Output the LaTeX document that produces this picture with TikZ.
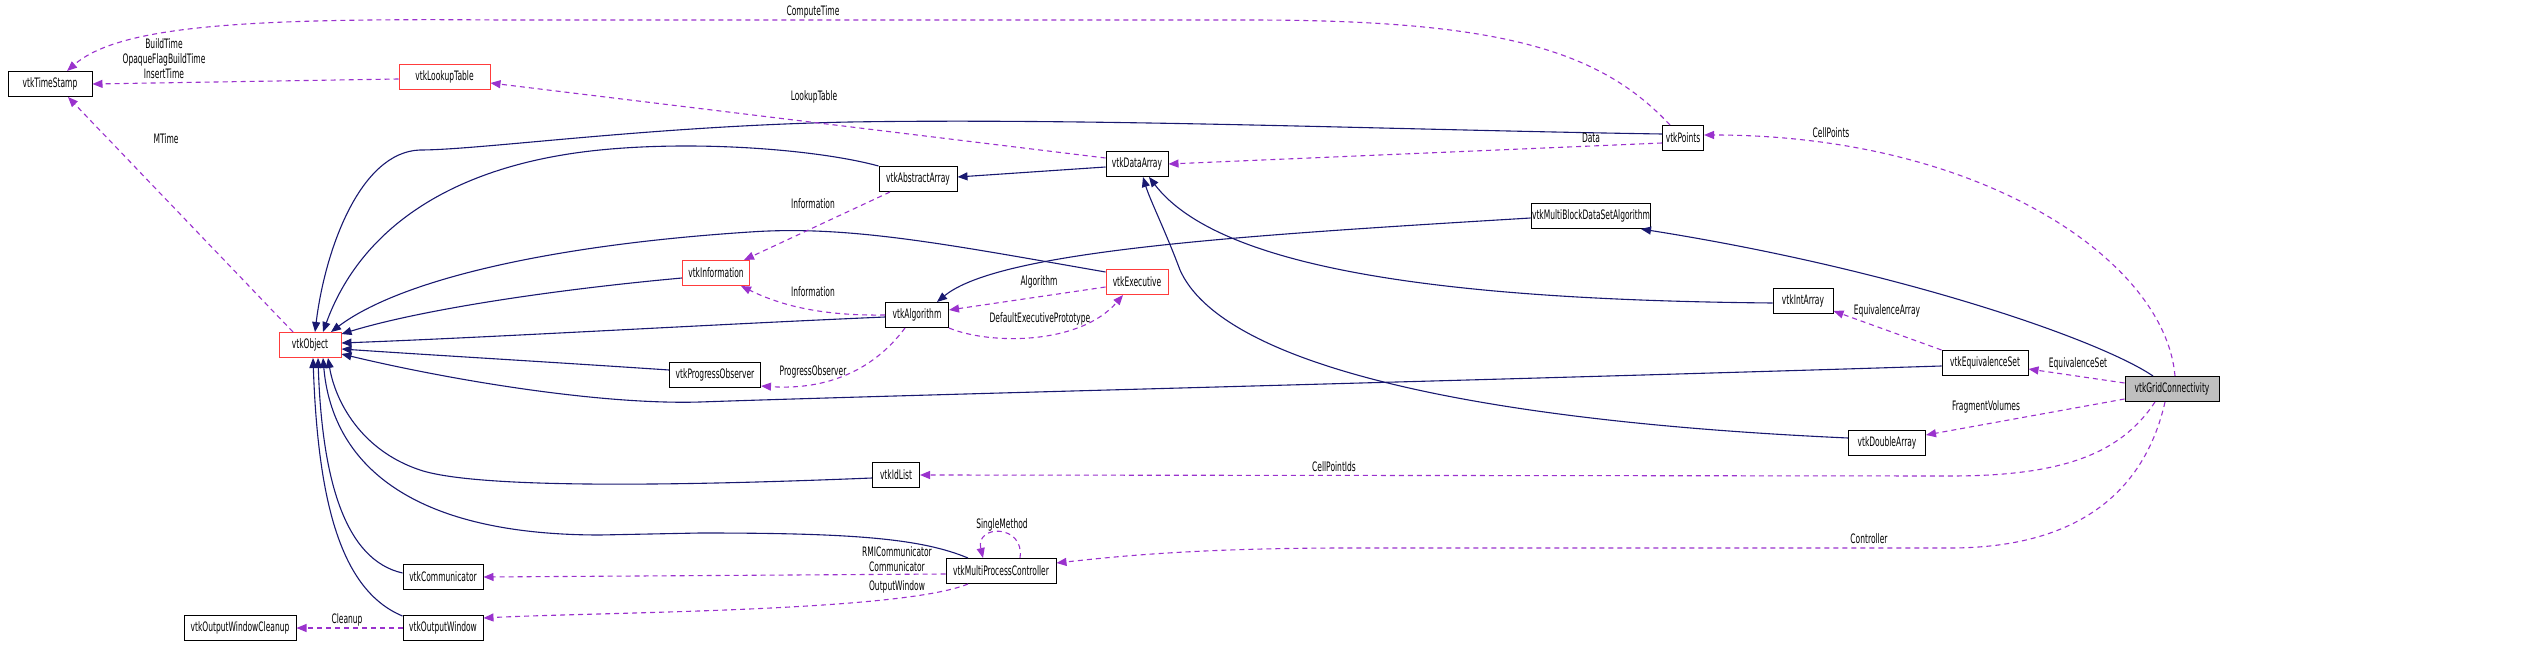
\documentclass[tikz,border=0pt]{standalone}
\usepackage{fontspec}
\newfontfamily\doxfont[FakeStretch=0.58]{DejaVu Sans}
\usetikzlibrary{arrows.meta, positioning}

\definecolor{inhblue}{RGB}{25,25,112}
\definecolor{usepurple}{RGB}{154,50,205}
\definecolor{truncred}{RGB}{255,60,60}
\definecolor{focusgray}{RGB}{191,191,191}

\tikzset{
  boxbase/.style={draw=black, fill=white, line width=1pt, minimum height=25pt,
    inner xsep=1pt, inner ysep=0pt, font=\doxfont\fontsize{13}{15}\selectfont},
  cls/.style={boxbase, minimum width=#1},
  truncated/.style={boxbase, draw=truncred, minimum width=#1},
  focus/.style={boxbase, fill=focusgray, minimum width=#1},
  lbl/.style={inner sep=0pt, align=center, font=\doxfont\fontsize{13}{15}\selectfont},
  inherit/.style={draw=inhblue, line width=1.1pt, -{Triangle[length=10pt,width=8pt]}},
  uses/.style={draw=usepurple, line width=1.1pt, dash pattern=on 5pt off 4pt,
    -{Triangle[length=10pt,width=8pt]}},
}

\begin{document}
\begin{tikzpicture}[x=1pt, y=-1pt]
  \useasboundingbox (0,0) rectangle (2544,647);

  % classes
  \node[cls=84pt] (timestamp) at (50,84) {vtkTimeStamp};
  \node[truncated=91pt] (lookup) at (444.5,77) {vtkLookupTable};
  \node[truncated=62pt] (object) at (310,345) {vtkObject};
  \node[cls=78pt] (abstractarr) at (918,179) {vtkAbstractArray};
  \node[cls=62pt] (dataarr) at (1137,164) {vtkDataArray};
  \node[cls=41pt] (points) at (1683,138) {vtkPoints};
  \node[truncated=67pt] (information) at (716,273) {vtkInformation};
  \node[cls=63pt] (algorithm) at (917,315) {vtkAlgorithm};
  \node[truncated=62pt] (executive) at (1137,282) {vtkExecutive};
  \node[cls=91pt] (progress) at (715,375) {vtkProgressObserver};
  \node[cls=112pt] (mbdsalg) at (1591,216) {vtkMultiBlockDataSetAlgorithm};
  \node[cls=60pt] (intarr) at (1803,301) {vtkIntArray};
  \node[cls=86pt] (equivset) at (1985,363) {vtkEquivalenceSet};
  \node[focus=94pt] (gridconn) at (2172,389) {vtkGridConnectivity};
  \node[cls=77pt] (doublearr) at (1887,443) {vtkDoubleArray};
  \node[cls=47pt] (idlist) at (896,475) {vtkIdList};
  \node[cls=110pt] (mpctrl) at (1001,571) {vtkMultiProcessController};
  \node[cls=80pt] (comm) at (443,577) {vtkCommunicator};
  \node[cls=80pt] (outwin) at (443,628) {vtkOutputWindow};
  \node[cls=112pt] (cleanup) at (240,628) {vtkOutputWindowCleanup};

  % inheritance
  \draw[inherit] ([yshift=4]points.west) .. controls (1400,130) and (1100,118) .. (850,122)
    .. controls (650,126) and (480,150) .. (420,150)
    .. controls (360,152) and (325,250) .. ([xshift=5]object.north);
  \draw[inherit] (abstractarr.north west) .. controls (820,150) and (700,140) .. (600,150)
    .. controls (450,165) and (360,230) .. ([xshift=13]object.north);
  \draw[inherit] ([yshift=-3]executive.north west) .. controls (950,245) and (850,225) .. (750,232)
    .. controls (550,245) and (400,280) .. ([xshift=21]object.north);
  \draw[inherit] ([yshift=-5]information.west) .. controls (550,290) and (420,310) .. ([yshift=-2]object.north east);
  \draw[inherit] ([yshift=-2]algorithm.west) .. controls (700,325) and (500,337) .. ([yshift=2]object.east);
  \draw[inherit] ([yshift=5]progress.west) .. controls (550,362) and (430,355) .. ([yshift=-4]object.east);
  \draw[inherit] ([yshift=-3]equivset.west) .. controls (1500,380) and (900,395) .. (700,402)
    .. controls (600,405) and (450,380) .. ([yshift=-9]object.east);
  \draw[inherit] ([yshift=-3]idlist.west) .. controls (700,485) and (480,490) .. (420,470)
    .. controls (360,450) and (335,400) .. ([xshift=18]object.south);
  \draw[inherit] ([xshift=-33]mpctrl.north) .. controls (920,538) and (850,533) .. (700,533)
    -- (600,535) .. controls (380,535) and (330,440) .. ([xshift=13]object.south);
  \draw[inherit] ([yshift=4]comm.west) .. controls (345,560) and (322,480) .. ([xshift=8]object.south);
  \draw[inherit] ([yshift=12]outwin.west) .. controls (340,590) and (318,500) .. ([xshift=3]object.south);
  \draw[inherit] ([yshift=-3]dataarr.west) -- ([yshift=2]abstractarr.east);
  \draw[inherit] ([yshift=-2]intarr.west) .. controls (1450,300) and (1220,270) .. ([xshift=12]dataarr.south);
  \draw[inherit] ([yshift=5]doublearr.west) .. controls (1450,420) and (1220,360) .. (1180,270)
    .. controls (1165,230) and (1150,200) .. ([xshift=6]dataarr.south);
  \draw[inherit] ([yshift=-2]mbdsalg.west) .. controls (1250,235) and (1000,250) .. ([xshift=20]algorithm.north);
  \draw[inherit] ([xshift=-19]gridconn.north) .. controls (2100,340) and (1900,270) .. ([xshift=50]mbdsalg.south);

  % members
  \draw[uses] ([xshift=-13]points.north) .. controls (1600,50) and (1500,20) .. (1250,20)
    -- (500,20) .. controls (250,18) and (120,25) .. ([xshift=17]timestamp.north);
  \draw[uses] ([yshift=-2]lookup.west) -- (timestamp.east);
  \draw[uses] ([xshift=-17]object.north) -- ([xshift=18]timestamp.south);
  \draw[uses] ([yshift=6]dataarr.west) -- ([yshift=-6]lookup.east);
  \draw[uses] ([yshift=-5]points.west) -- (dataarr.east);
  \draw[uses] ([xshift=3]gridconn.north) .. controls (2165,260) and (1980,135) .. ([yshift=3]points.east);
  \draw[uses] ([xshift=-28]abstractarr.south) -- ([xshift=28]information.north);
  \draw[uses] (algorithm.west) .. controls (820,316) and (780,305) .. ([xshift=25]information.south);
  \draw[uses] ([yshift=-5]executive.west) -- ([yshift=5]algorithm.east);
  \draw[uses] (algorithm.south east) .. controls (990,345) and (1080,345) .. ([xshift=-14]executive.south);
  \draw[uses] ([xshift=-12]algorithm.south) .. controls (870,375) and (820,390) .. ([yshift=-11]progress.east);
  \draw[uses] (equivset.north west) -- ([yshift=-10]intarr.east);
  \draw[uses] ([yshift=6]gridconn.west) -- ([yshift=-6]equivset.east);
  \draw[uses] ([yshift=-10]gridconn.west) -- ([yshift=8]doublearr.east);
  \draw[uses] ([xshift=-17]gridconn.south) .. controls (2120,455) and (2060,476) .. (1950,476) -- (idlist.east);
  \draw[uses] ([xshift=-7]gridconn.south) .. controls (2145,490) and (2080,548) .. (1950,548)
    -- (1350,548) .. controls (1200,548) and (1120,556) .. ([yshift=8]mpctrl.east);
  \draw[uses] ([xshift=19]mpctrl.north) .. controls (1025,524) and (975,524) .. ([xshift=-18]mpctrl.north);
  \draw[uses] ([yshift=-3]mpctrl.west) -- (comm.east);
  \draw[uses] ([xshift=-33]mpctrl.south) .. controls (900,612) and (600,612) .. ([yshift=10]outwin.east);
  \draw[uses] (outwin.west) -- (cleanup.east);

  % labels
  \node[lbl] (lblcompute) at (813,12) {ComputeTime};
  \node[lbl] (lblbuild) at (164,59) {BuildTime\\OpaqueFlagBuildTime\\InsertTime};
  \node[lbl] (lblmtime) at (166,139) {MTime};
  \node[lbl] (lbllookup) at (814,97) {LookupTable};
  \node[lbl] (lbldata) at (1591,138) {Data};
  \node[lbl] (lblcellpts) at (1831,133) {CellPoints};
  \node[lbl] (lblinfoa) at (813,204) {Information};
  \node[lbl] (lblinfob) at (813,292) {Information};
  \node[lbl] (lblalgo) at (1039,282) {Algorithm};
  \node[lbl] (lbldefexec) at (1040,319) {DefaultExecutivePrototype};
  \node[lbl] (lblprogress) at (813,372) {ProgressObserver};
  \node[lbl] (lblequivarr) at (1887,311) {EquivalenceArray};
  \node[lbl] (lblequivset) at (2078,364) {EquivalenceSet};
  \node[lbl] (lblfragvol) at (1986,407) {FragmentVolumes};
  \node[lbl] (lblcellids) at (1334,467) {CellPointIds};
  \node[lbl] (lblsingle) at (1002,525) {SingleMethod};
  \node[lbl] (lblctrl) at (1869,539) {Controller};
  \node[lbl] (lblcomm) at (897,559) {RMICommunicator\\Communicator};
  \node[lbl] (lbloutwin) at (897,587) {OutputWindow};
  \node[lbl] (lblcleanup) at (347,620) {Cleanup};
\end{tikzpicture}
\end{document}
